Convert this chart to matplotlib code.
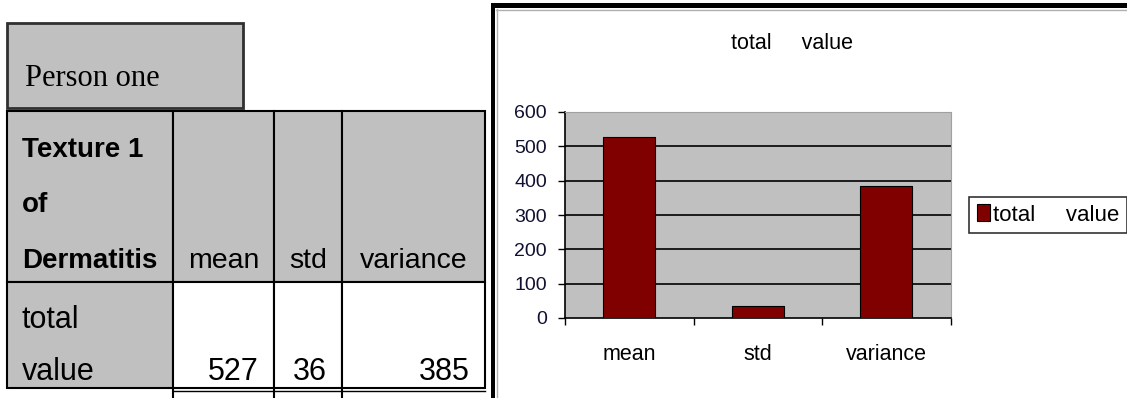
import matplotlib.pyplot as plt
from matplotlib.patches import Rectangle

# datos
categories = ['mean', 'std', 'variance']
values = [527, 36, 385]
series_name = 'total     value'
row_label = ['total', 'value']
corner_label = ['Texture 1', 'of', 'Dermatitis']
box_title = 'Person one'
y_ticks = [0, 100, 200, 300, 400, 500, 600]

W, H = 1127, 398
SANS = ['Liberation Sans', 'DejaVu Sans']
GRAY = '#c0c0c0'
BAR = '#800000'

fig = plt.figure(figsize=(W / 100, H / 100), dpi=100)

# capa en pixeles para la tabla y el marco
ax0 = fig.add_axes([0, 0, 1, 1])
ax0.set_xlim(0, W)
ax0.set_ylim(H, 0)
ax0.axis('off')

# caja "Person one"
ax0.add_patch(Rectangle((7, 23), 236, 85, facecolor=GRAY, edgecolor='#303030', lw=2))
ax0.text(25, 86, box_title, family=['Liberation Serif', 'DejaVu Serif'], fontsize=22,
         va='baseline', ha='left')

# tabla
col_x = [7, 173, 274, 342, 485]
row_y = [111, 282, 388]
for r in range(2):
    for c in range(4):
        fc = GRAY if (r == 0 or c == 0) else 'white'
        ax0.add_patch(Rectangle((col_x[c], row_y[r]), col_x[c + 1] - col_x[c],
                                row_y[r + 1] - row_y[r], facecolor=fc,
                                edgecolor='black', lw=1.5))
for x in col_x[1:4]:
    ax0.plot([x, x], [row_y[2], H], color='black', lw=1.5)
ax0.plot([col_x[1], col_x[4]], [row_y[2] + 3, row_y[2] + 3], color='black', lw=1)

for i, line in enumerate(corner_label):
    ax0.text(22, 157 + i * 55.5, line, family=SANS, fontsize=20, fontweight='bold',
             va='baseline', ha='left')
for c, name in enumerate(categories):
    cx = (col_x[c + 1] + col_x[c + 2]) / 2
    ax0.text(cx, 268, name, family=SANS, fontsize=20.5, va='baseline', ha='center')
for i, line in enumerate(row_label):
    ax0.text(22, 328 + i * 52, line, family=SANS, fontsize=22, va='baseline', ha='left')
for c, v in enumerate(values):
    ax0.text(col_x[c + 2] - 15, 380, str(v), family=SANS, fontsize=22,
             va='baseline', ha='right')

# marco del grafico
ax0.add_patch(Rectangle((491, 3), W - 491, 5, facecolor='black', lw=0))
ax0.add_patch(Rectangle((491, 3), 4, H - 3, facecolor='black', lw=0))
ax0.plot([496, W], [9.5, 9.5], color='#b0b0b0', lw=1)
ax0.plot([496.5, 496.5], [9, H], color='#b0b0b0', lw=1)

# grafico de barras
ax = fig.add_axes([565 / W, 1 - 318 / H, 385.7 / W, 206 / H])
ax.set_facecolor(GRAY)
x = list(range(len(categories)))
ax.bar(x, values, width=0.405, color=BAR, edgecolor='black', linewidth=0.8,
       zorder=3, label=series_name)
ax.set_xlim(-0.5, len(categories) - 0.5)
ax.set_ylim(0, 600)
for yv in y_ticks[1:-1]:
    ax.axhline(yv, color='black', lw=1.2, zorder=2)

ax.set_yticks(y_ticks)
ax.set_yticklabels([str(t) for t in y_ticks], family=SANS, fontsize=14, color='#101030')
ax.tick_params(axis='y', direction='out', length=5, width=1, pad=8)
ax.set_xticks([i - 0.5 for i in range(len(categories) + 1)])
ax.set_xticklabels([])
ax.tick_params(axis='x', which='major', direction='out', length=5, width=1)
ax.set_xticks(x, minor=True)
ax.set_xticklabels(categories, minor=True, family=SANS, fontsize=15.5)
ax.tick_params(axis='x', which='minor', length=0, pad=19)

for s in ['top', 'right']:
    ax.spines[s].set_color('#a0a0a0')
for s in ['left', 'bottom']:
    ax.spines[s].set_color('black')
    ax.spines[s].set_linewidth(1.2)

fig.text(792 / W, 1 - 49 / H, series_name, family=SANS, fontsize=15.5,
         ha='center', va='baseline')

leg = ax.legend(loc='center left', bbox_to_anchor=(969 / W, 1 - 215 / H),
                bbox_transform=fig.transFigure, frameon=True, fancybox=False,
                prop={'family': SANS, 'size': 16}, handlelength=0.6,
                handleheight=0.78, handletextpad=0.15, borderpad=0.35,
                borderaxespad=0)
leg.get_frame().set_edgecolor('black')
leg.get_frame().set_linewidth(1.2)

fig.savefig('out.png', dpi=100)
